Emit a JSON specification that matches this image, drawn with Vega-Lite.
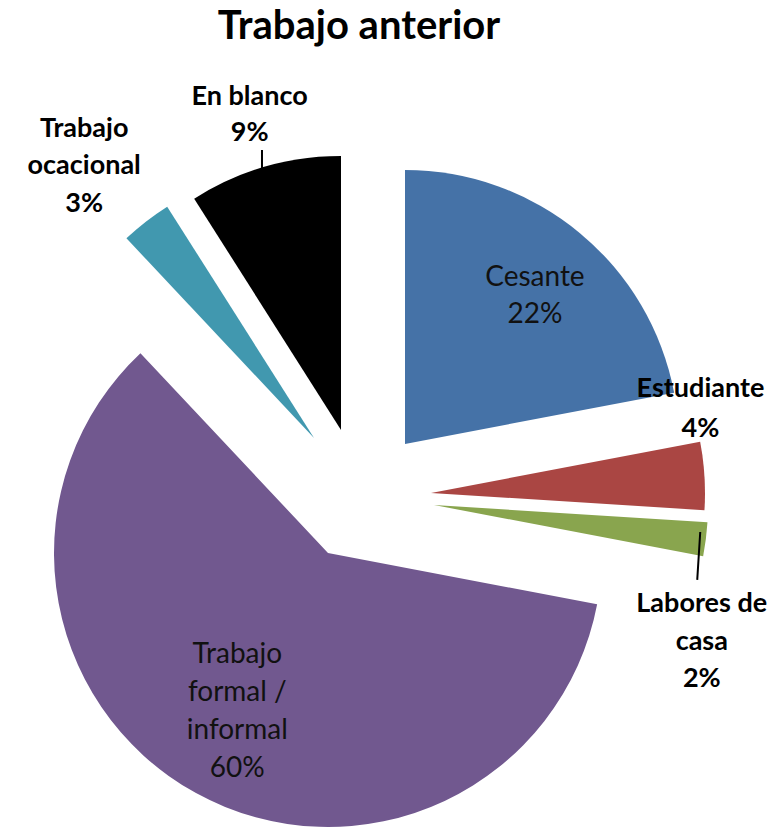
{
  "$schema": "https://vega.github.io/schema/vega-lite/v6.json",
  "width": 784,
  "height": 829,
  "autosize": {"type": "fit", "contains": "padding"},
  "padding": {"top": 7, "left": 0, "right": 0, "bottom": 0},
  "background": "white",
  "config": {"view": {"stroke": null}, "font": "Lato"},
  "title": {"text": "Trabajo anterior", "font": "Lato", "fontSize": 40, "fontWeight": "bold", "color": "#000", "anchor": "middle", "dx": -33, "offset": 8},
  "data": {"values": [
    {"cat": "Cesante", "value": 22, "order": 1, "label": "Cesante\n22%"},
    {"cat": "Estudiante", "value": 4, "order": 2, "label": "Estudiante\n4%"},
    {"cat": "Labores de casa", "value": 2, "order": 3, "label": "Labores de\ncasa\n2%"},
    {"cat": "Trabajo formal / informal", "value": 60, "order": 4, "label": "Trabajo\nformal /\ninformal\n60%"},
    {"cat": "Trabajo ocacional", "value": 3, "order": 5, "label": "Trabajo\nocacional\n3%"},
    {"cat": "En blanco", "value": 9, "order": 6, "label": "En blanco\n9%"}
  ]},
  "transform": [
    {"stack": "value", "groupby": [], "sort": [{"field": "order", "order": "ascending"}], "as": ["t0", "t1"]},
    {"calculate": "(datum.t0 + datum.t1) / 2", "as": "mid"}
  ],
  "layer": [
    {"transform": [{"filter": "datum.cat === 'Cesante'"}],
     "mark": {"type": "arc", "outerRadius": 274, "xOffset": 13, "yOffset": 2},
     "encoding": {"theta": {"field": "t0", "type": "quantitative", "stack": null, "scale": {"domain": [0, 100]}}, "theta2": {"field": "t1"},
       "color": {"field": "cat", "type": "nominal", "legend": null, "scale": {"domain": ["Cesante", "Estudiante", "Labores de casa", "Trabajo formal / informal", "Trabajo ocacional", "En blanco"], "range": ["#4572A7", "#AA4643", "#89A54E", "#71588F", "#4198AF", "#000000"]}}}},
    {"transform": [{"filter": "datum.cat === 'Estudiante'"}],
     "mark": {"type": "arc", "outerRadius": 274, "xOffset": 39, "yOffset": 51},
     "encoding": {"theta": {"field": "t0", "type": "quantitative", "stack": null, "scale": {"domain": [0, 100]}}, "theta2": {"field": "t1"},
       "color": {"field": "cat", "type": "nominal", "legend": null}}},
    {"transform": [{"filter": "datum.cat === 'Labores de casa'"}],
     "mark": {"type": "arc", "outerRadius": 274, "xOffset": 42, "yOffset": 63},
     "encoding": {"theta": {"field": "t0", "type": "quantitative", "stack": null, "scale": {"domain": [0, 100]}}, "theta2": {"field": "t1"},
       "color": {"field": "cat", "type": "nominal", "legend": null}}},
    {"transform": [{"filter": "datum.cat === 'Trabajo formal / informal'"}],
     "mark": {"type": "arc", "outerRadius": 274, "xOffset": -64, "yOffset": 111},
     "encoding": {"theta": {"field": "t0", "type": "quantitative", "stack": null, "scale": {"domain": [0, 100]}}, "theta2": {"field": "t1"},
       "color": {"field": "cat", "type": "nominal", "legend": null}}},
    {"transform": [{"filter": "datum.cat === 'Trabajo ocacional'"}],
     "mark": {"type": "arc", "outerRadius": 274, "xOffset": -78, "yOffset": -4},
     "encoding": {"theta": {"field": "t0", "type": "quantitative", "stack": null, "scale": {"domain": [0, 100]}}, "theta2": {"field": "t1"},
       "color": {"field": "cat", "type": "nominal", "legend": null}}},
    {"transform": [{"filter": "datum.cat === 'En blanco'"}],
     "mark": {"type": "arc", "outerRadius": 274, "xOffset": -51, "yOffset": -12},
     "encoding": {"theta": {"field": "t0", "type": "quantitative", "stack": null, "scale": {"domain": [0, 100]}}, "theta2": {"field": "t1"},
       "color": {"field": "cat", "type": "nominal", "legend": null}}},

    {"transform": [{"filter": "datum.cat === 'En blanco'"}],
     "mark": {"type": "arc", "innerRadius": 261, "outerRadius": 281, "thetaOffset": 0.2827, "theta2Offset": 0.2827, "xOffset": -130, "yOffset": -11, "stroke": "#000", "strokeWidth": 2, "fillOpacity": 0},
     "encoding": {"theta": {"field": "mid", "type": "quantitative", "stack": null, "scale": {"domain": [0, 100]}}, "theta2": {"field": "mid"}}},
    {"transform": [{"filter": "datum.cat === 'Labores de casa'"}],
     "mark": {"type": "arc", "innerRadius": 28, "outerRadius": 76, "thetaOffset": 1.5079, "theta2Offset": 1.5079, "xOffset": 310, "yOffset": 62, "stroke": "#000", "strokeWidth": 2, "fillOpacity": 0},
     "encoding": {"theta": {"field": "mid", "type": "quantitative", "stack": null, "scale": {"domain": [0, 100]}}, "theta2": {"field": "mid"}}},

    {"transform": [{"filter": "datum.cat === 'Cesante'"}],
     "mark": {"type": "text", "radius": 196, "xOffset": 13, "yOffset": 3, "dx": 5, "dy": -16, "lineBreak": "\n", "lineHeight": 37, "fontSize": 28, "font": "Lato", "color": "#111", "align": "center", "baseline": "middle"},
     "encoding": {"theta": {"field": "mid", "type": "quantitative", "stack": null, "scale": {"domain": [0, 100]}}, "text": {"field": "label"}}},
    {"transform": [{"filter": "datum.cat === 'Trabajo formal / informal'"}],
     "mark": {"type": "text", "radius": 182, "xOffset": -64, "yOffset": 113, "dx": -3, "dy": -59, "lineBreak": "\n", "lineHeight": 38, "fontSize": 28, "font": "Lato", "color": "#111", "align": "center", "baseline": "middle"},
     "encoding": {"theta": {"field": "mid", "type": "quantitative", "stack": null, "scale": {"domain": [0, 100]}}, "text": {"field": "label"}}},
    {"transform": [{"filter": "datum.cat === 'Estudiante'"}],
     "mark": {"type": "text", "radius": 274, "xOffset": 39, "yOffset": 52, "dx": -4, "dy": -88, "lineBreak": "\n", "lineHeight": 40, "fontSize": 27, "fontWeight": "bold", "font": "Lato", "color": "#000", "align": "center", "baseline": "middle"},
     "encoding": {"theta": {"field": "mid", "type": "quantitative", "stack": null, "scale": {"domain": [0, 100]}}, "text": {"field": "label"}}},
    {"transform": [{"filter": "datum.cat === 'Labores de casa'"}],
     "mark": {"type": "text", "radius": 283, "xOffset": 42, "yOffset": 64, "dx": -13, "dy": 63, "lineBreak": "\n", "lineHeight": 37.5, "fontSize": 27, "fontWeight": "bold", "font": "Lato", "color": "#000", "align": "center", "baseline": "middle"},
     "encoding": {"theta": {"field": "mid", "type": "quantitative", "stack": null, "scale": {"domain": [0, 100]}}, "text": {"field": "label"}}},
    {"transform": [{"filter": "datum.cat === 'Trabajo ocacional'"}],
     "mark": {"type": "text", "radius": 357, "xOffset": -78, "yOffset": -3, "dx": -11, "dy": -28, "lineBreak": "\n", "lineHeight": 37.5, "fontSize": 27, "fontWeight": "bold", "font": "Lato", "color": "#000", "align": "center", "baseline": "middle"},
     "encoding": {"theta": {"field": "mid", "type": "quantitative", "stack": null, "scale": {"domain": [0, 100]}}, "text": {"field": "label"}}},
    {"transform": [{"filter": "datum.cat === 'En blanco'"}],
     "mark": {"type": "text", "radius": 331, "xOffset": -51, "yOffset": -11, "dx": 1, "dy": -16, "lineBreak": "\n", "lineHeight": 36, "fontSize": 27, "fontWeight": "bold", "font": "Lato", "color": "#000", "align": "center", "baseline": "middle"},
     "encoding": {"theta": {"field": "mid", "type": "quantitative", "stack": null, "scale": {"domain": [0, 100]}}, "text": {"field": "label"}}}
  ]
}
